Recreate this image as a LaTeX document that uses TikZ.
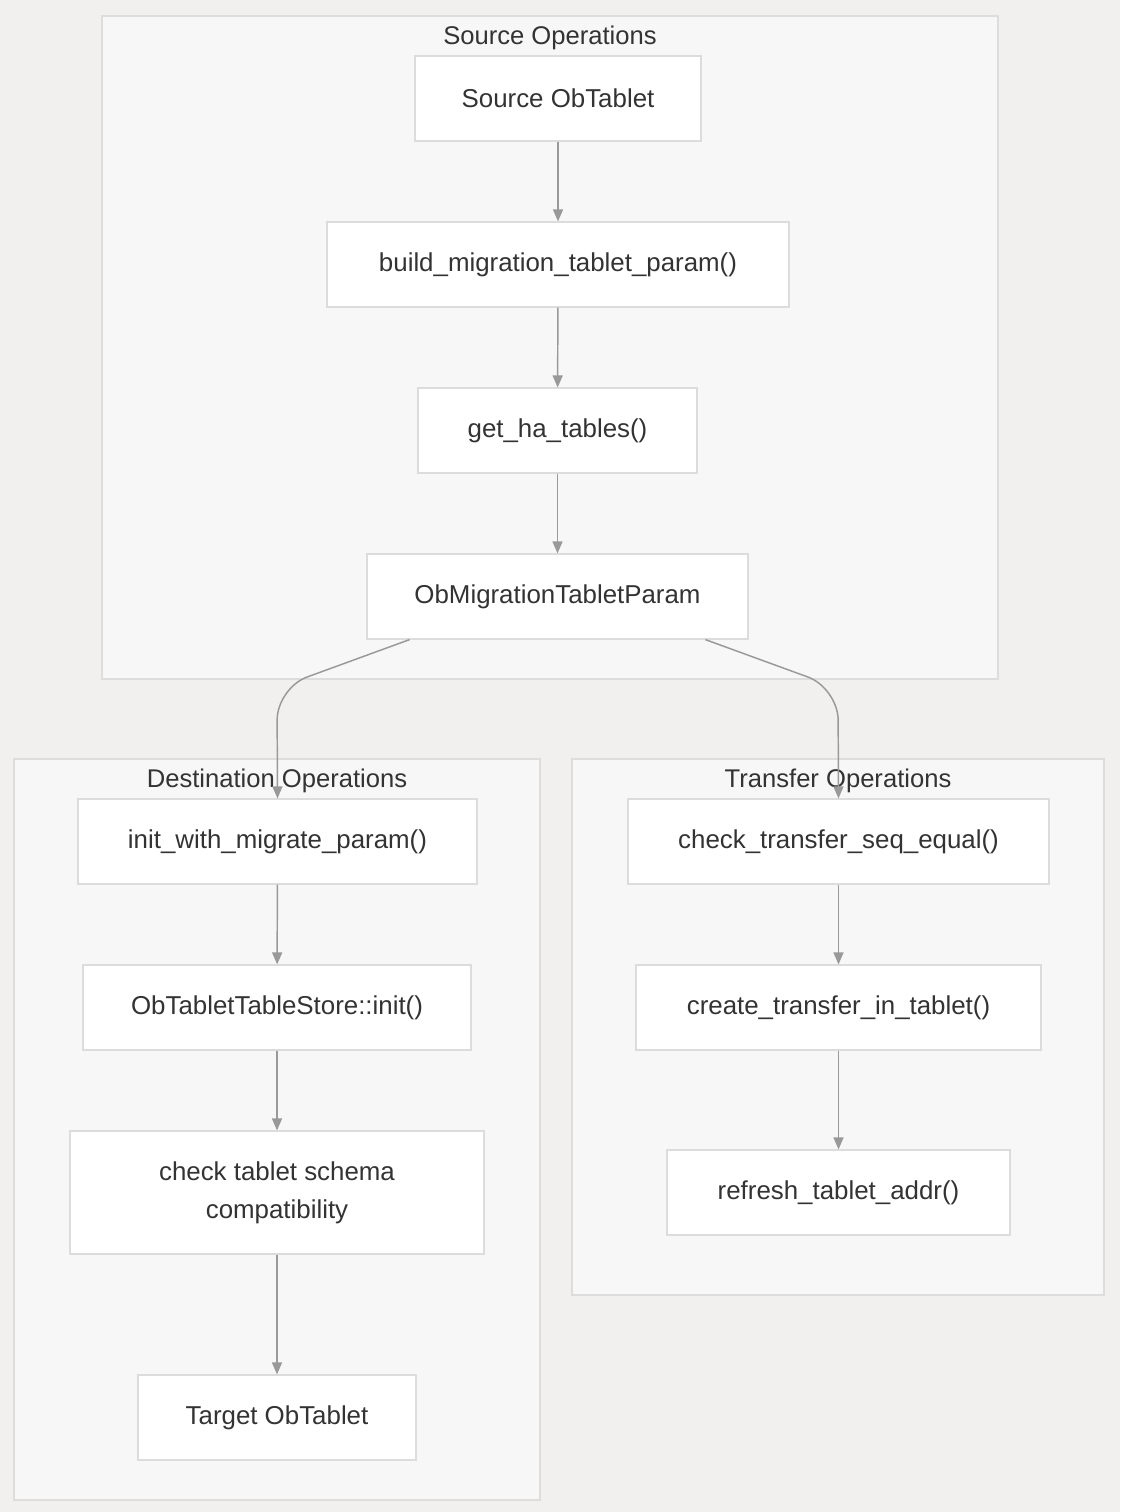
\documentclass[tikz,border=0pt]{standalone}
\usepackage{fontspec}
\setmainfont{Liberation Sans}
\usetikzlibrary{arrows.meta,calc}
\definecolor{bgc}{HTML}{F1F0EF}
\definecolor{clfill}{HTML}{F7F7F7}
\definecolor{clline}{HTML}{DDDDDD}
\definecolor{ndline}{HTML}{DCDCDC}
\definecolor{edgec}{HTML}{999999}
\definecolor{txt}{HTML}{333333}
\begin{document}
\begin{tikzpicture}[x=0.75pt,y=-0.75pt,
  cluster/.style={draw=clline,fill=clfill,line width=1pt},
  ctitle/.style={text=txt,font=\fontsize{19.2pt}{22pt}\selectfont,inner sep=0pt,anchor=center},
  box/.style={draw=ndline,fill=white,line width=0.9pt,text=txt,font=\fontsize{19.4pt}{28.5pt}\selectfont,inner sep=0pt,align=center},
  edge/.style={draw=edgec,line width=1.1pt,-{Triangle[width=7.5pt,length=9pt]}}]
\fill[bgc] (0,0) rectangle (1120,1512);
\useasboundingbox (0,0) rectangle (1120,1512);
% clusters
\draw[cluster] (102,16) rectangle (998,679);
\node[ctitle] (tsrc) at (550,38) {Source Operations};
\draw[cluster] (14,759) rectangle (540,1500);
\node[ctitle] (tdst) at (277,781) {Destination Operations};
\draw[cluster] (572,759) rectangle (1104,1295);
\node[ctitle] (ttr) at (838,781) {Transfer Operations};
% nodes
\newcommand{\bx}[6]{\node[box,minimum width={(#3-#2)*0.75pt},minimum height={(#5-#4)*0.75pt}] (#1) at ({(#2+#3)/2},{(#4+#5)/2}) {#6};}
\bx{src}{415}{701}{56}{141}{Source ObTablet}
\bx{build}{327}{789}{222}{307}{build\_migration\_tablet\_param()}
\bx{ha}{418}{697}{388}{473}{get\_ha\_tables()}
\bx{mig}{367}{748}{554}{639}{ObMigrationTabletParam}
\bx{init}{78}{477}{799}{884}{init\_with\_migrate\_param()}
\bx{store}{83}{471}{965}{1050}{ObTabletTableStore::init()}
\bx{schema}{70}{484}{1131}{1254}{check tablet schema\\compatibility}
\bx{target}{138}{416}{1375}{1460}{Target ObTablet}
\bx{seq}{628}{1049}{799}{884}{check\_transfer\_seq\_equal()}
\bx{create}{636}{1041}{965}{1050}{create\_transfer\_in\_tablet()}
\bx{refresh}{667}{1010}{1150}{1235}{refresh\_tablet\_addr()}
% edges
\draw[edge] (src) -- (build);
\draw[edge] (build) -- (ha);
\draw[edge] (ha) -- (mig);
\draw[edge,rounded corners=24pt] ($(mig.south west)!0.113!(mig.south east)$) -- (277,688) -- (init.north);
\draw[edge,rounded corners=24pt] ($(mig.south west)!0.887!(mig.south east)$) -- (838,688) -- (seq.north);
\draw[edge] (init) -- (store);
\draw[edge] (store) -- (schema);
\draw[edge] (schema) -- (target);
\draw[edge] (seq) -- (create);
\draw[edge] (create) -- (refresh);
\end{tikzpicture}
\end{document}
